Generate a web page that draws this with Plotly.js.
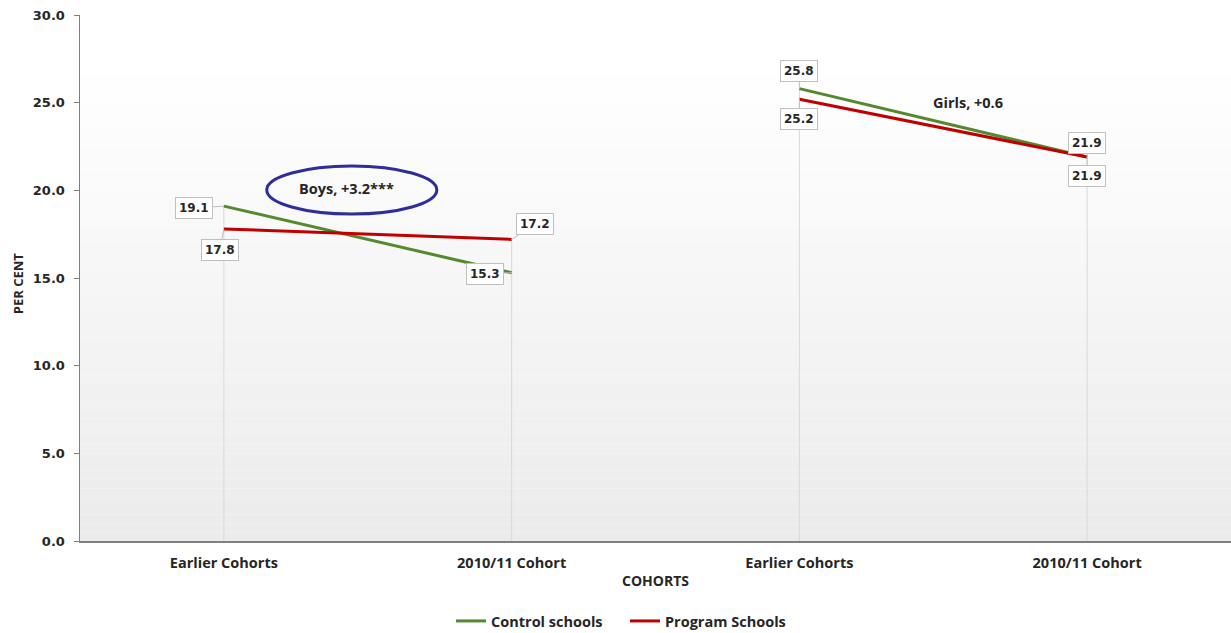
<!DOCTYPE html>
<html>
<head>
<meta charset="utf-8">
<script src="https://cdn.plot.ly/plotly-3.0.1.min.js"></script>
<style>
  html, body { margin: 0; padding: 0; background: #ffffff; }
  #chart { width: 1231px; height: 633px; }
</style>
</head>
<body>
<div id="chart"></div>
<script>
// Cohort tick labels (boys pair, then girls pair)
const cohortLabels = ['Earlier Cohorts', '2010/11 Cohort', 'Earlier Cohorts', '2010/11 Cohort'];
const cohortPos = [0, 1, 2, 3];

// Per-cent values by school type, boys then girls
const controlBoys = [19.1, 15.3];
const controlGirls = [25.8, 21.9];
const programBoys = [17.8, 17.2];
const programGirls = [25.2, 21.9];

// Group notes
const boysNote = 'Boys, +3.2***';
const girlsNote = 'Girls, +0.6';

const yTicks = [0, 5, 10, 15, 20, 25, 30];

const GREEN = '#55892f';
const RED = '#c00000';
const INK = '#262626';
const labelFont = { family: 'DejaVu Sans, Verdana, sans-serif', size: 12, color: INK };
const textFont = { family: 'Open Sans, Lato, sans-serif', size: 14.5, color: INK };
const bold = s => '<b>' + s + '</b>';

const boysX = cohortPos.slice(0, 2);
const girlsX = cohortPos.slice(2, 4);

const controlAll = controlBoys.concat(controlGirls);
const programAll = programBoys.concat(programGirls);

// Grey drop lines from the higher of the two points down to the axis
const dropX = [], dropY = [];
cohortPos.forEach((p, i) => {
  dropX.push(p, p, null);
  dropY.push(0, Math.max(controlAll[i], programAll[i]), null);
});

const traces = [
  { x: dropX, y: dropY, mode: 'lines', line: { color: '#d9d9d9', width: 1 },
    showlegend: false, hoverinfo: 'skip' },
  { x: boysX, y: controlBoys, mode: 'lines', name: bold('Control schools'),
    legendgroup: 'c', line: { color: GREEN, width: 3 } },
  { x: girlsX, y: controlGirls, mode: 'lines', name: bold('Control schools'),
    legendgroup: 'c', showlegend: false, line: { color: GREEN, width: 3 } },
  { x: boysX, y: programBoys, mode: 'lines', name: bold('Program Schools'),
    legendgroup: 'p', line: { color: RED, width: 3 } },
  { x: girlsX, y: programGirls, mode: 'lines', name: bold('Program Schools'),
    legendgroup: 'p', showlegend: false, line: { color: RED, width: 3 } }
];

// Callout offsets (px) for each value label
const controlOffsets = [[-30, 2], [-27, 1], [0, -18], [0, -14]];
const programOffsets = [[-4, 21], [23, -15], [0, 20], [0, 19]];

function callout(x, y, off) {
  return {
    x: x, y: y, xref: 'x', yref: 'y',
    text: bold(y.toFixed(1)),
    showarrow: true, arrowhead: 0, arrowwidth: 1, arrowcolor: '#bfbfbf',
    standoff: 0, ax: off[0], ay: off[1],
    bgcolor: '#ffffff', bordercolor: '#bfbfbf', borderwidth: 1, borderpad: 3,
    font: labelFont
  };
}

const annotations = [];
cohortPos.forEach((p, i) => {
  annotations.push(callout(p, controlAll[i], controlOffsets[i]));
  annotations.push(callout(p, programAll[i], programOffsets[i]));
});
annotations.push({ x: 0.427, y: 20.1, xref: 'x', yref: 'y', text: bold(boysNote),
  showarrow: false, font: textFont });
annotations.push({ x: 2.585, y: 25.0, xref: 'x', yref: 'y', text: bold(girlsNote),
  showarrow: false, font: textFont });
// Axis titles
annotations.push({ x: -0.0539, y: 0.49, xref: 'paper', yref: 'paper', xanchor: 'center', yanchor: 'middle',
  text: bold('PER CENT'), textangle: -90, showarrow: false, font: { ...textFont, size: 13 } });
annotations.push({ x: 0.5004, y: -0.076, xref: 'paper', yref: 'paper', xanchor: 'center', yanchor: 'middle',
  text: bold('COHORTS'), showarrow: false, font: { ...textFont, size: 14 } });

// Soft vertical fill: white at the top fading to light grey at the axis
const shapes = [];
const steps = 60;
for (let k = 0; k < steps; k++) {
  const y0 = 30 * k / steps, y1 = 30 * (k + 1) / steps;
  const mid = (y0 + y1) / 2;
  const t = Math.min(1, mid / 27);
  const c = Math.round(235 + (255 - 235) * t);
  shapes.push({ type: 'rect', xref: 'paper', yref: 'y', x0: 0, x1: 1, y0: y0, y1: y1,
    fillcolor: 'rgb(' + c + ',' + c + ',' + c + ')', line: { width: 0 }, layer: 'below' });
}
shapes.push({ type: 'circle', xref: 'x', yref: 'y', x0: 0.149, x1: 0.740, y0: 18.65, y1: 21.39,
  line: { color: '#2e2e9a', width: 3 }, fillcolor: 'rgba(0,0,0,0)', layer: 'above' });

const layout = {
  width: 1231, height: 633,
  margin: { l: 80, r: 0, t: 15, b: 92 },
  paper_bgcolor: '#ffffff', plot_bgcolor: '#ffffff',
  showlegend: true,
  legend: { orientation: 'h', xref: 'container', yref: 'container',
    x: 451 / 1231, xanchor: 'left', y: 1 - 621 / 633, yanchor: 'middle',
    font: { ...textFont, size: 14.5 }, itemwidth: 30, tracegroupgap: 0,
    entrywidth: 129, entrywidthmode: 'pixels' },
  xaxis: {
    range: [-0.5, 3.5], tickmode: 'array', tickvals: cohortPos,
    ticktext: cohortLabels.map(bold),
    showgrid: false, zeroline: false, showline: true, linecolor: '#7f7f7f', linewidth: 1.5,
    ticks: '', ticklabelstandoff: 8,
    tickfont: { ...textFont, size: 14.5 }, fixedrange: true
  },
  yaxis: {
    range: [0, 30], tickmode: 'array', tickvals: yTicks,
    ticktext: yTicks.map(v => bold(v.toFixed(1))),
    showgrid: false, zeroline: false, showline: true, linecolor: '#7f7f7f', linewidth: 1.5,
    ticks: 'outside', ticklen: 5, tickcolor: '#7f7f7f', ticklabelstandoff: 6,
    tickfont: { family: 'DejaVu Sans, Verdana, sans-serif', size: 13, color: INK },
    fixedrange: true
  },
  shapes: shapes,
  annotations: annotations
};

Plotly.newPlot('chart', traces, layout, { displayModeBar: false, staticPlot: true });
</script>
</body>
</html>
